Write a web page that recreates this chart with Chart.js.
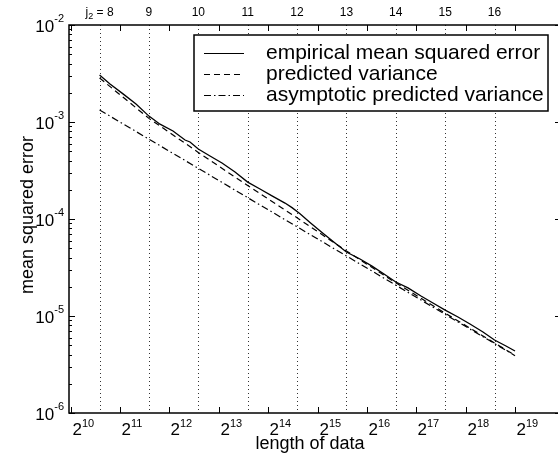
<!DOCTYPE html>
<html>
<head>
<meta charset="utf-8">
<title>mean squared error vs length of data</title>
<script src="https://cdn.jsdelivr.net/npm/chart.js@4.4.1/dist/chart.umd.min.js"></script>
<style>
  html, body { margin: 0; padding: 0; background: #fff; overflow: hidden; }
  #wrap { position: relative; width: 562px; height: 456px; }
</style>
</head>
<body>
<div id="wrap"><canvas id="mse"></canvas></div>
<script>
// data lengths where the empirical error was measured
const lengths = [1536, 1778, 2135, 2562, 3072, 3588, 4306, 5098, 5468, 6144,
  7240, 8568, 10286, 12288, 14610, 17290, 20752, 22900, 25620, 29480,
  34890, 41880, 49152, 59480, 70400, 83300, 98304, 116700, 140000, 165700,
  196608, 235400, 278600, 334400, 393216, 461800, 524288];
const empiricalMse = [3.05e-3, 2.47e-3, 1.95e-3, 1.53e-3, 1.15e-3, 9.5e-4, 8.07e-4, 6.52e-4, 6.22e-4, 5.27e-4,
  4.46e-4, 3.78e-4, 3.05e-4, 2.40e-4, 2.04e-4, 1.73e-4, 1.46e-4, 1.31e-4, 1.13e-4, 9.20e-5,
  7.25e-5, 5.66e-5, 4.57e-5, 3.87e-5, 3.27e-5, 2.71e-5, 2.24e-5, 1.95e-5, 1.61e-5, 1.36e-5,
  1.15e-5, 9.77e-6, 8.27e-6, 6.84e-6, 5.66e-6, 4.91e-6, 4.36e-6];

// predicted curves, one value per scale level plus the last length
const levelLengths = [1536, 3072, 6144, 12288, 24576, 49152, 98304, 196608, 393216, 524288];
const predictedVar = [2.84e-3, 1.09e-3, 4.86e-4, 2.21e-4, 1.03e-4, 4.68e-5, 2.20e-5, 1.07e-5, 5.27e-6, 3.94e-6];
const asymptoticVar = [1.33e-3, 6.65e-4, 3.33e-4, 1.66e-4, 8.31e-5, 4.16e-5, 2.08e-5, 1.04e-5, 5.20e-6, 3.90e-6];

// j2 levels marked by dotted lines along the top axis
const j2Levels = [8, 9, 10, 11, 12, 13, 14, 15, 16];
const j2Lengths = [1536, 3072, 6144, 12288, 24576, 49152, 98304, 196608, 393216];

// tick labels: powers of two below, powers of ten on the left
const xTickPowers = [10, 11, 12, 13, 14, 15, 16, 17, 18, 19];
const yTickPowers = [-2, -3, -4, -5, -6];

const FONT = '"Liberation Sans", Arial, Helvetica, sans-serif';
const font = (size) => size + 'px ' + FONT;

const toPoints = (xs, ys) => xs.map((n, i) => ({ x: n, y: ys[i] }));

// boxed axes with inward ticks, superscript labels and the j2 guide lines
const matlabAxes = {
  id: 'matlabAxes',
  beforeDatasetsDraw(chart) {
    const { ctx, chartArea: a, scales: { x } } = chart;
    ctx.save();
    ctx.strokeStyle = '#333';
    ctx.lineWidth = 1;
    ctx.setLineDash([1, 3]);
    j2Lengths.forEach((n) => {
      const px = Math.round(x.getPixelForValue(n)) + 0.5;
      ctx.beginPath();
      ctx.moveTo(px, a.top);
      ctx.lineTo(px, a.bottom);
      ctx.stroke();
    });
    ctx.restore();
  },
  afterDatasetsDraw(chart) {
    const { ctx, chartArea: a, scales: { x, y } } = chart;
    ctx.save();
    ctx.strokeStyle = '#000';
    ctx.fillStyle = '#000';

    // frame
    ctx.lineWidth = 1.5;
    ctx.strokeRect(a.left, a.top, a.right - a.left, a.bottom - a.top);

    // y ticks, major and minor, on both sides
    ctx.lineWidth = 1;
    yTickPowers.forEach((p) => {
      const py = Math.round(y.getPixelForValue(Math.pow(10, p))) + 0.5;
      ctx.beginPath();
      ctx.moveTo(a.left, py); ctx.lineTo(a.left + 6, py);
      ctx.moveTo(a.right, py); ctx.lineTo(a.right - 6, py);
      ctx.stroke();
      for (let m = 2; m <= 9; m++) {
        const v = m * Math.pow(10, p);
        if (v > 1e-2) break;
        const my = Math.round(y.getPixelForValue(v)) + 0.5;
        ctx.beginPath();
        ctx.moveTo(a.left, my); ctx.lineTo(a.left + 3, my);
        ctx.moveTo(a.right, my); ctx.lineTo(a.right - 3, my);
        ctx.stroke();
      }
    });

    // y labels, 10 with a raised exponent, right aligned
    ctx.textBaseline = 'alphabetic';
    yTickPowers.forEach((p) => {
      const py = y.getPixelForValue(Math.pow(10, p));
      const sup = String(p);
      ctx.font = font(11);
      const supW = ctx.measureText(sup).width;
      ctx.textAlign = 'left';
      ctx.fillText(sup, a.left - 5 - supW, py - 3);
      ctx.font = font(17);
      ctx.textAlign = 'right';
      ctx.fillText('10', a.left - 5 - supW, py + 7);
    });

    // x ticks top and bottom
    xTickPowers.forEach((k) => {
      const px = Math.round(x.getPixelForValue(Math.pow(2, k))) + 0.5;
      ctx.beginPath();
      ctx.moveTo(px, a.bottom); ctx.lineTo(px, a.bottom - 6);
      ctx.moveTo(px, a.top); ctx.lineTo(px, a.top + 6);
      ctx.stroke();
      ctx.textAlign = 'left';
      ctx.font = font(17);
      ctx.fillText('2', px + 1, a.bottom + 22);
      const baseW = ctx.measureText('2').width;
      ctx.font = font(11);
      ctx.fillText(String(k), px + 1 + baseW, a.bottom + 14);
    });

    // j2 labels above the top axis
    j2Levels.forEach((j, i) => {
      const px = x.getPixelForValue(j2Lengths[i]);
      if (i === 0) {
        ctx.font = font(12);
        const wj = ctx.measureText('j').width;
        const rest = ' = ' + j;
        const wr = ctx.measureText(rest).width;
        ctx.font = font(9);
        const ws = ctx.measureText('2').width;
        const x0 = px - (wj + ws + wr) / 2;
        ctx.textAlign = 'left';
        ctx.fillText('2', x0 + wj, 19);
        ctx.font = font(12);
        ctx.fillText('j', x0, 16);
        ctx.fillText(rest, x0 + wj + ws, 16);
      } else {
        ctx.font = font(12);
        ctx.textAlign = 'center';
        ctx.fillText(String(j), px, 16);
      }
    });

    // axis titles
    ctx.font = font(18);
    ctx.textAlign = 'center';
    ctx.fillText('length of data', 310, 449);
    ctx.save();
    ctx.translate(33, 215);
    ctx.rotate(-Math.PI / 2);
    ctx.fillText('mean squared error', 0, 0);
    ctx.restore();

    ctx.restore();
  }
};

// boxed legend in the upper right corner
const boxLegend = {
  id: 'boxLegend',
  afterDraw(chart) {
    const { ctx } = chart;
    const box = { left: 194, top: 35, right: 548, bottom: 111 };
    ctx.save();
    ctx.fillStyle = '#fff';
    ctx.fillRect(box.left, box.top, box.right - box.left, box.bottom - box.top);
    ctx.strokeStyle = '#000';
    ctx.lineWidth = 1.5;
    ctx.strokeRect(box.left, box.top, box.right - box.left, box.bottom - box.top);
    ctx.font = font(21);
    ctx.fillStyle = '#000';
    ctx.textAlign = 'left';
    ctx.textBaseline = 'middle';
    chart.data.datasets.forEach((ds, i) => {
      const ry = 53 + i * 21;
      ctx.lineWidth = 1.2;
      ctx.setLineDash(ds.borderDash || []);
      ctx.beginPath();
      ctx.moveTo(204, Math.round(ry) + 0.5);
      ctx.lineTo(244, Math.round(ry) + 0.5);
      ctx.stroke();
      ctx.setLineDash([]);
      ctx.fillText(ds.label, 266, ry);
    });
    ctx.restore();
  }
};

new Chart(document.getElementById('mse'), {
  type: 'scatter',
  data: {
    datasets: [
      {
        label: 'empirical mean squared error',
        data: toPoints(lengths, empiricalMse),
        borderColor: '#000',
        borderWidth: 1.3,
        borderDash: [],
        showLine: true,
        pointRadius: 0
      },
      {
        label: 'predicted variance',
        data: toPoints(levelLengths, predictedVar),
        borderColor: '#000',
        borderWidth: 1.2,
        borderDash: [6, 4],
        showLine: true,
        pointRadius: 0
      },
      {
        label: 'asymptotic predicted variance',
        data: toPoints(levelLengths, asymptoticVar),
        borderColor: '#000',
        borderWidth: 1.2,
        borderDash: [7, 3, 1.5, 3],
        showLine: true,
        pointRadius: 0
      }
    ]
  },
  options: {
    responsive: true,
    maintainAspectRatio: false,
    animation: false,
    layout: { padding: { left: 69, top: 25, right: 1, bottom: 43 } },
    scales: {
      x: { type: 'logarithmic', min: 1000, max: 1e6, display: false },
      y: { type: 'logarithmic', min: 1e-6, max: 1e-2, display: false }
    },
    plugins: {
      legend: { display: false },
      tooltip: { enabled: false }
    }
  },
  plugins: [matlabAxes, boxLegend]
});
</script>
</body>
</html>
